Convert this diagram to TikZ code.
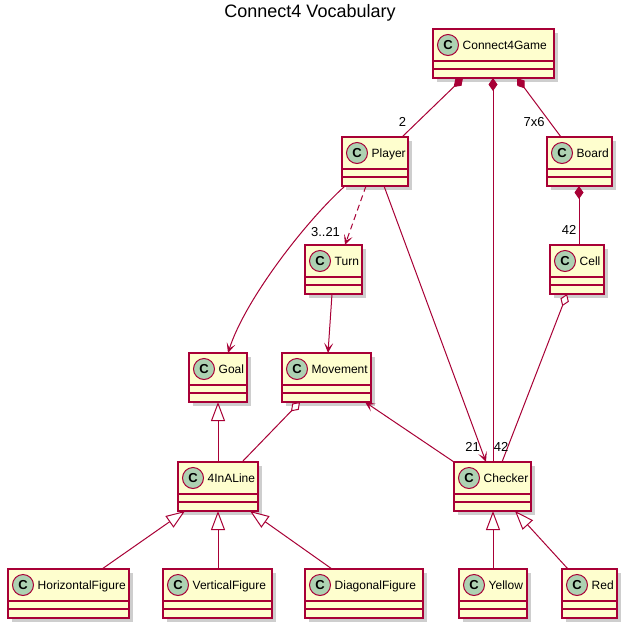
\documentclass[tikz,border=0pt]{standalone}
\usepackage{fontspec}
\setmainfont{Liberation Sans}
\usetikzlibrary{arrows.meta,shadows,calc}
\definecolor{umlborder}{HTML}{A80036}
\definecolor{umlfill}{HTML}{FEFECE}
\definecolor{umlspot}{HTML}{ADD1B2}
\tikzset{
  clsbox/.style={draw=umlborder, fill=umlfill, line width=1.5pt, inner sep=0pt, outer sep=0pt,
    drop shadow={shadow xshift=4pt, shadow yshift=-4pt, opacity=0.35, fill=black!55}},
  clssep/.style={draw=umlborder, line width=1.5pt},
  spot/.style={circle, draw=umlborder, fill=umlspot, line width=1pt, minimum size=21pt, inner sep=0pt,
    font=\bfseries\fontsize{13}{13}\selectfont},
  clsname/.style={anchor=base west, inner sep=0pt, font=\fontsize{12}{12}\selectfont},
  conn/.style={draw=umlborder, line width=1pt},
  lbl/.style={inner sep=0pt, font=\fontsize{13}{13}\selectfont},
  comp/.style={{Diamond[length=13pt,width=9pt,fill=umlborder]}-},
  aggr/.style={{Diamond[open,fill=white,length=13pt,width=9pt]}-},
  inh/.style={{Triangle[open,fill=white,length=19pt,width=14pt]}-},
  arr/.style={-{Stealth[length=10pt,width=9pt,inset=5pt]}},
  arrback/.style={{Stealth[length=10pt,width=9pt,inset=5pt]}-},
}
\newcommand\umlclass[6]{%
  \node[clsbox, minimum width={(#5-#3)*1pt}, minimum height={(#6-#4)*1pt}] (#1) at ({(#3+#5)/2},{(#4+#6)/2}) {};
  \draw[clssep] ([yshift=-32pt]#1.north west) -- ([yshift=-32pt]#1.north east);
  \draw[clssep] ([yshift=-40pt]#1.north west) -- ([yshift=-40pt]#1.north east);
  \node[spot] (#1-spot) at ([xshift=15pt,yshift=-16pt]#1.north west) {C};
  \node[clsname] (#1-name) at ([xshift=29.5pt,yshift=-20.6pt]#1.north west) {#2};
}
\begin{document}
\begin{tikzpicture}[x=1pt,y=-1pt]
\useasboundingbox[fill=white] (0,0) rectangle (630,630);
\node[font=\fontsize{18}{18}\selectfont] (title) at (310,13) {Connect4 Vocabulary};

\umlclass{game}{Connect4Game}{433}{29}{554}{78}
\umlclass{player}{Player}{342}{137}{408}{186}
\umlclass{board}{Board}{547}{137}{612}{186}
\umlclass{turn}{Turn}{305}{245}{362}{294}
\umlclass{cell}{Cell}{550}{245}{604}{294}
\umlclass{goal}{Goal}{189}{353}{247}{402}
\umlclass{movement}{Movement}{282}{353}{371}{402}
\umlclass{line}{4InALine}{178}{462}{258}{511}
\umlclass{checker}{Checker}{454}{462}{531}{511}
\umlclass{hfig}{HorizontalFigure}{8}{569}{129}{618}
\umlclass{vfig}{VerticalFigure}{163}{569}{272}{618}
\umlclass{dfig}{DiagonalFigure}{305}{569}{423}{618}
\umlclass{yellow}{Yellow}{459}{569}{527}{618}
\umlclass{red}{Red}{562}{569}{617}{618}

% compositions
\draw[conn, comp] ([xshift=-30.5pt]game.south) -- ([xshift=27pt]player.north);
\draw[conn, comp] ([xshift=-0.5pt]game.south) -- ([xshift=0.5pt]checker.north);
\draw[conn, comp] ([xshift=23.5pt]game.south) -- ([xshift=-18.5pt]board.north);
\draw[conn, comp] ([xshift=-0.5pt]board.south) -- ([xshift=2pt]cell.north);
% aggregations
\draw[conn, aggr] ([xshift=-10pt]cell.south) -- ([xshift=9.5pt]checker.north);
\draw[conn, aggr] ([xshift=-26.5pt]movement.south) -- ([xshift=24pt]line.north);
% associations
\draw[conn, arr, dash pattern=on 6pt off 4pt] ([xshift=-9pt]player.south) -- ([xshift=11.5pt]turn.north);
\draw[conn, arr] ([xshift=-30pt]player.south) .. controls (305,222) and (245,300) .. ([xshift=10pt]goal.north);
\draw[conn, arr] ([xshift=9pt]player.south) -- ([xshift=-6.5pt]checker.north);
\draw[conn, arr] ([xshift=-1.5pt]turn.south) -- ([xshift=1.5pt]movement.north);
\draw[conn, arrback] ([xshift=38.5pt]movement.south) -- (checker.north west);
% inheritance
\draw[conn, inh] (goal.south) -- (line.north);
\draw[conn, inh] ([xshift=-33pt]line.south) -- ([xshift=33.5pt]hfig.north);
\draw[conn, inh] (line.south) -- ([xshift=0.5pt]vfig.north);
\draw[conn, inh] ([xshift=32pt]line.south) -- ([xshift=-32pt]dfig.north);
\draw[conn, inh] ([xshift=0.5pt]checker.south) -- (yellow.north);
\draw[conn, inh] ([xshift=22.5pt]checker.south) -- ([xshift=-21.5pt]red.north);

% multiplicities
\node[lbl] (m2) at (402.5,122) {2};
\node[lbl] (m76) at (534,122) {7x6};
\node[lbl] (m42a) at (569,230) {42};
\node[lbl] (m321) at (325.5,232) {3..21};
\node[lbl] (m21) at (472.5,447) {21};
\node[lbl] (m42b) at (501,447) {42};
\end{tikzpicture}
\end{document}
